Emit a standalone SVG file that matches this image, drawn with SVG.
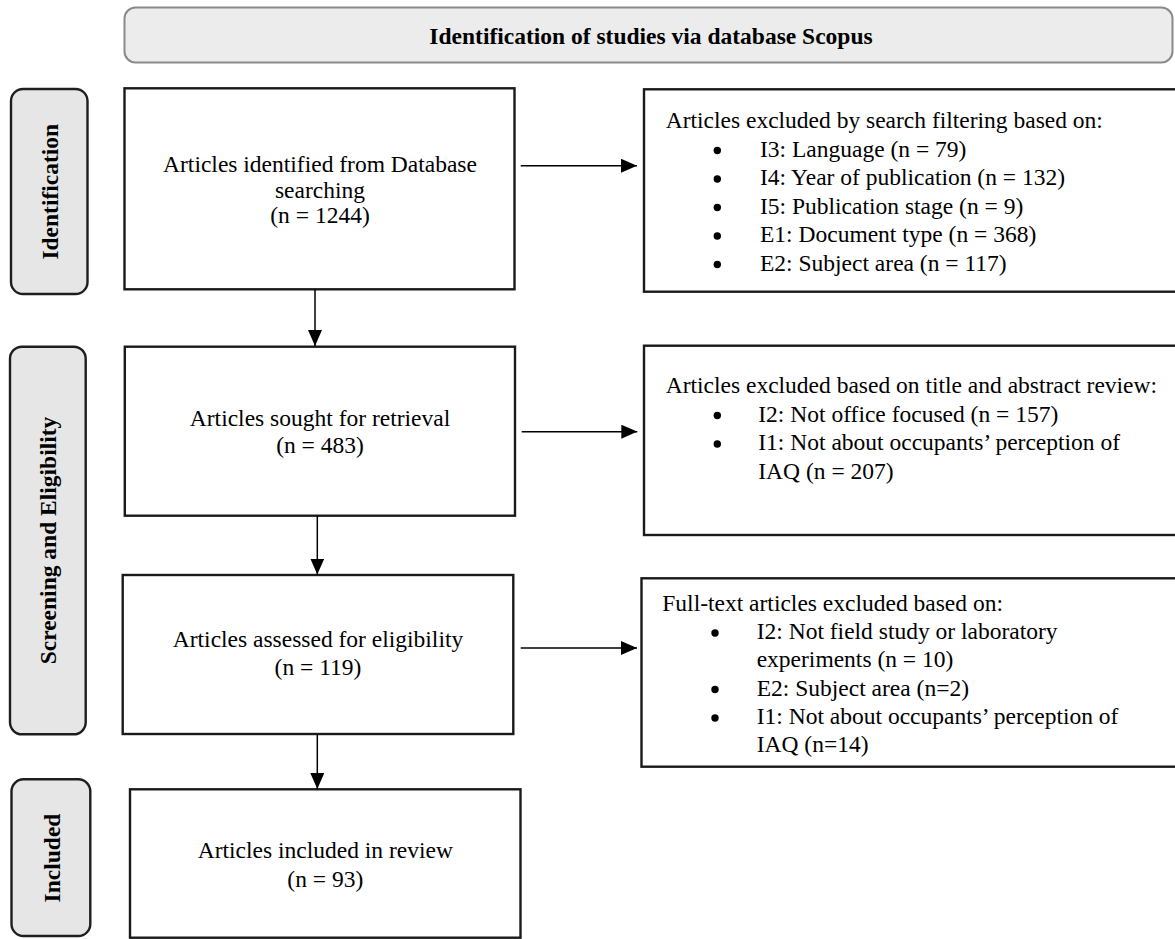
<svg xmlns="http://www.w3.org/2000/svg" width="1175" height="939" viewBox="0 0 1175 939">
<defs>
<style>
.bg{fill:#ffffff}
.title{fill:#ececec;stroke:#8a8a8a;stroke-width:2}
.lane{fill:#e6e6e6;stroke:#1e1e1e;stroke-width:2.4}
.box{fill:#ffffff;stroke:#1a1a1a;stroke-width:2.4}
.t{font-family:"Liberation Serif","Times New Roman",serif;font-size:23.5px;fill:#000}
.c{text-anchor:middle}
.b{font-weight:bold}
.edge{stroke:#000;stroke-width:1.5;fill:none}
.dot{fill:#000}
</style>
<marker id="ah" markerUnits="userSpaceOnUse" markerWidth="16" markerHeight="14" refX="16" refY="7" orient="auto">
<path d="M0,0 L16,7 L0,14 z" fill="#000"/>
</marker>
</defs>
<rect class="bg" x="0" y="0" width="1175" height="939"/>

<g id="title">
<rect class="title" x="124.5" y="7.5" width="1048" height="55" rx="11"/>
<text class="t b c" x="651" y="43.5">Identification of studies via database Scopus</text>
</g>

<g id="lane-identification">
<rect class="lane" x="11" y="89" width="76.5" height="205" rx="12"/>
<text class="t b c" transform="translate(57.5,191.7) rotate(-90)">Identification</text>
</g>
<g id="lane-screening">
<rect class="lane" x="10" y="346.7" width="75.7" height="387.6" rx="12"/>
<text class="t b c" transform="translate(56,540.5) rotate(-90)">Screening and Eligibility</text>
</g>
<g id="lane-included">
<rect class="lane" x="11.5" y="779.3" width="78.8" height="156.7" rx="12"/>
<text class="t b c" transform="translate(59.5,858) rotate(-90)">Included</text>
</g>

<g id="identified">
<rect class="box" x="124.5" y="88.3" width="390" height="201"/>
<text class="t c" x="320" y="172">Articles identified from Database</text>
<text class="t c" x="320" y="197.5">searching</text>
<text class="t c" x="320" y="223">(n = 1244)</text>
</g>

<g id="excluded-filter">
<rect class="box" x="644" y="89.3" width="540" height="202.4"/>
<text class="t" x="665.7" y="127.5">Articles excluded by search filtering based on:</text>
<circle class="dot" cx="717.3" cy="150.5" r="3.7"/>
<text class="t" x="760" y="156.5">I3: Language (n = 79)</text>
<circle class="dot" cx="717.3" cy="179" r="3.7"/>
<text class="t" x="760" y="185">I4: Year of publication (n = 132)</text>
<circle class="dot" cx="717.3" cy="207.5" r="3.7"/>
<text class="t" x="760" y="213.5">I5: Publication stage (n = 9)</text>
<circle class="dot" cx="717.3" cy="236" r="3.7"/>
<text class="t" x="760" y="242">E1: Document type (n = 368)</text>
<circle class="dot" cx="717.3" cy="264.5" r="3.7"/>
<text class="t" x="760" y="270.5">E2: Subject area (n = 117)</text>
</g>

<g id="sought">
<rect class="box" x="124.8" y="346.7" width="390.2" height="169"/>
<text class="t c" x="320" y="426">Articles sought for retrieval</text>
<text class="t c" x="320" y="453.3">(n = 483)</text>
</g>

<g id="excluded-title-abstract">
<rect class="box" x="644" y="345.7" width="540" height="189.3"/>
<text class="t" x="665.7" y="393">Articles excluded based on title and abstract review:</text>
<circle class="dot" cx="717.3" cy="415.5" r="3.7"/>
<text class="t" x="758.3" y="421.5">I2: Not office focused (n = 157)</text>
<circle class="dot" cx="717.3" cy="444" r="3.7"/>
<text class="t" x="758.3" y="450">I1: Not about occupants’ perception of</text>
<text class="t" x="758.3" y="478.5">IAQ (n = 207)</text>
</g>

<g id="assessed">
<rect class="box" x="122.7" y="575" width="390.6" height="159"/>
<text class="t c" x="318" y="647.3">Articles assessed for eligibility</text>
<text class="t c" x="318" y="675">(n = 119)</text>
</g>

<g id="excluded-fulltext">
<rect class="box" x="641.5" y="578.3" width="542" height="188.4"/>
<text class="t" x="662.3" y="610.5">Full-text articles excluded based on:</text>
<circle class="dot" cx="715" cy="633" r="3.7"/>
<text class="t" x="756.7" y="639">I2: Not field study or laboratory</text>
<text class="t" x="756.7" y="667">experiments (n = 10)</text>
<circle class="dot" cx="715" cy="689.5" r="3.7"/>
<text class="t" x="756.7" y="695.5">E2: Subject area (n=2)</text>
<circle class="dot" cx="715" cy="718" r="3.7"/>
<text class="t" x="756.7" y="724">I1: Not about occupants’ perception of</text>
<text class="t" x="756.7" y="752">IAQ (n=14)</text>
</g>

<g id="included">
<rect class="box" x="130" y="789.3" width="390.5" height="148.4"/>
<text class="t c" x="325.3" y="858.3">Articles included in review</text>
<text class="t c" x="325.3" y="886.7">(n = 93)</text>
</g>

<g id="connectors">
<line class="edge" x1="520.7" y1="165.7" x2="637" y2="165.7" marker-end="url(#ah)"/>
<line class="edge" x1="521.7" y1="431.7" x2="637.3" y2="431.7" marker-end="url(#ah)"/>
<line class="edge" x1="520.7" y1="648" x2="637" y2="648" marker-end="url(#ah)"/>
<line class="edge" x1="315" y1="289.3" x2="315" y2="346" marker-end="url(#ah)"/>
<line class="edge" x1="317.3" y1="515.7" x2="317.3" y2="574.5" marker-end="url(#ah)"/>
<line class="edge" x1="317.3" y1="734" x2="317.3" y2="789" marker-end="url(#ah)"/>
</g>
</svg>
